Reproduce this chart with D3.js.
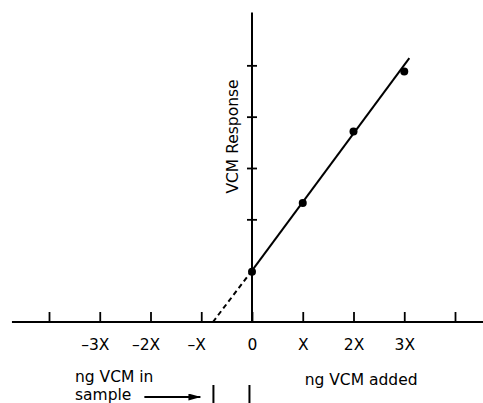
<!DOCTYPE html>
<html>
<head>
<meta charset="utf-8">
<script src="https://cdn.jsdelivr.net/npm/d3@7"></script>
<style>
  body { margin: 0; background: #fff; }
  svg text { font-family: "DejaVu Sans", Verdana, sans-serif; font-size: 15.5px; fill: #000; }
</style>
</head>
<body>
<div id="chart"></div>
<script>
// standard addition plot
const xTicks = [-4, -3, -2, -1, 0, 1, 2, 3, 4];
const xTickLabels = ["", "\u20133X", "\u20132X", "\u2013X", "0", "X", "2X", "3X", ""];
const yTicks = [2, 3, 4, 5];
const xAxisExtent = [-4.73, 4.6];
const yAxisExtent = [0, 6.03];

const addedX = [0, 1, 2, 3];
const responseY = [0.98, 2.32, 3.71, 4.88];

const fitX = [0, 3.1];
const fitY = [1.0, 5.14];
const extrapX = [-0.77, 0];
const extrapY = [0, 1.0];

const bracketX = [-0.76, -0.05];

const width = 483, height = 403;

const svg = d3.select("#chart")
    .append("svg")
    .attr("width", width)
    .attr("height", height);

const x = d3.scaleLinear().domain([-4, 4]).range([49, 455]);
const y = d3.scaleLinear().domain([0, 6]).range([322, 14]);

// x axis, ticks pointing up
const xAxis = svg.append("g")
    .attr("transform", `translate(0,${y(0)})`)
    .call(d3.axisBottom(x)
        .tickValues(xTicks)
        .tickFormat((d, i) => xTickLabels[i])
        .tickSizeInner(-10)
        .tickSizeOuter(0)
        .tickPadding(17));
xAxis.select(".domain").remove();
xAxis.selectAll("line").attr("stroke", "#000").attr("stroke-width", 1.8);
xAxis.selectAll("text")
    .attr("dx", d => d < 0 ? -5 : 0);
xAxis.attr("font-size", null).attr("font-family", null);

svg.append("line")
    .attr("x1", x(xAxisExtent[0])).attr("x2", x(xAxisExtent[1]))
    .attr("y1", y(0)).attr("y2", y(0))
    .attr("stroke", "#000").attr("stroke-width", 2);

// y axis, cross ticks
const yAxis = svg.append("g")
    .attr("transform", `translate(${x(0)},0)`)
    .call(d3.axisLeft(y).tickValues(yTicks).tickSize(5).tickFormat(""));
yAxis.select(".domain").remove();
yAxis.selectAll("line").attr("x1", 5).attr("stroke", "#000").attr("stroke-width", 1.8);

svg.append("line")
    .attr("x1", x(0)).attr("x2", x(0))
    .attr("y1", y(yAxisExtent[0])).attr("y2", y(yAxisExtent[1]))
    .attr("stroke", "#000").attr("stroke-width", 2);

svg.append("text")
    .attr("transform", `translate(${x(0) - 14.5},136.5) rotate(-90)`)
    .attr("text-anchor", "middle")
    .text("VCM Response");

// fitted line
const line = d3.line().x(d => x(d[0])).y(d => y(d[1]));

svg.append("path")
    .datum(fitX.map((v, i) => [v, fitY[i]]))
    .attr("d", line)
    .attr("fill", "none")
    .attr("stroke", "#000")
    .attr("stroke-width", 2);

svg.append("path")
    .datum(extrapX.map((v, i) => [v, extrapY[i]]))
    .attr("d", line)
    .attr("fill", "none")
    .attr("stroke", "#000")
    .attr("stroke-width", 2)
    .attr("stroke-dasharray", "5,3.5");

svg.selectAll("circle.pt")
    .data(addedX.map((v, i) => [v, responseY[i]]))
    .enter()
    .append("circle")
    .attr("class", "pt")
    .attr("cx", d => x(d[0]))
    .attr("cy", d => y(d[1]))
    .attr("r", 4)
    .attr("fill", "#000");

// bottom annotations
svg.append("text")
    .attr("x", x(2.15)).attr("y", 385)
    .attr("text-anchor", "middle")
    .text("ng VCM added");

svg.append("text").attr("x", 75).attr("y", 382).text("ng VCM in");
const sample = svg.append("text").attr("x", 75).attr("y", 400).text("sample");

svg.selectAll("line.bracket")
    .data(bracketX)
    .enter()
    .append("line")
    .attr("class", "bracket")
    .attr("x1", d => x(d)).attr("x2", d => x(d))
    .attr("y1", 385).attr("y2", height)
    .attr("stroke", "#000").attr("stroke-width", 2);

svg.append("defs").append("marker")
    .attr("id", "arrow")
    .attr("viewBox", "0 0 12 7")
    .attr("refX", 12).attr("refY", 3.5)
    .attr("markerWidth", 12).attr("markerHeight", 7)
    .attr("markerUnits", "userSpaceOnUse")
    .attr("orient", "auto")
    .append("path")
    .attr("d", "M0,0L12,3.5L0,7Z")
    .attr("fill", "#000");

const sampleEnd = 75 + sample.node().getComputedTextLength();
svg.append("line")
    .attr("x1", sampleEnd + 13).attr("x2", x(bracketX[0]) - 13)
    .attr("y1", 397).attr("y2", 397)
    .attr("stroke", "#000").attr("stroke-width", 2)
    .attr("marker-end", "url(#arrow)");
</script>
</body>
</html>
